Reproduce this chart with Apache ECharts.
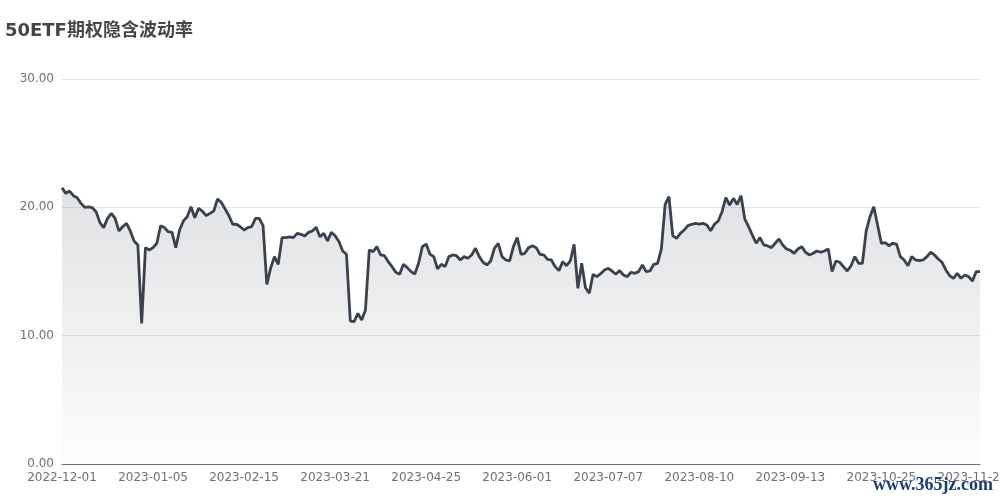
<!DOCTYPE html>
<html>
<head>
<meta charset="utf-8">
<script src="https://cdn.jsdelivr.net/npm/echarts@6/dist/echarts.min.js"></script>
<style>
html,body{margin:0;padding:0;background:#fff;overflow:hidden;}
#chart{width:1000px;height:500px;}
</style>
</head>
<body>
<div id="chart"></div>
<script>
// Trading calendar: 2022-12-01 .. 2023-11-30 (SSE trading days)
var startDate = '2022-12-01';
var endDate = '2023-11-30';
var holidays = ['2023-01-02','2023-01-23','2023-01-24','2023-01-25','2023-01-26','2023-01-27',
  '2023-04-05','2023-05-01','2023-05-02','2023-05-03','2023-06-22','2023-06-23',
  '2023-09-29','2023-10-02','2023-10-03','2023-10-04','2023-10-05','2023-10-06'];

// Implied volatility values
var ivValues = [
  21.53,21.09,21.27,20.91,20.75,20.31,20.00,20.03,19.97,19.66,
  18.81,18.42,19.14,19.53,19.14,18.16,18.49,18.75,18.16,17.38,
  17.07,10.96,16.86,16.68,16.86,17.20,18.57,18.42,18.10,18.05,
  16.86,18.23,18.94,19.27,20.05,19.19,19.92,19.71,19.35,19.53,
  19.71,20.65,20.39,19.87,19.35,18.68,18.68,18.49,18.23,18.42,
  18.49,19.14,19.14,18.57,14.00,15.25,16.16,15.56,17.64,17.64,
  17.69,17.64,17.97,17.90,17.77,18.05,18.16,18.44,17.71,17.97,
  17.38,18.05,17.79,17.33,16.60,16.34,11.14,11.09,11.74,11.22,
  12.00,16.68,16.55,16.94,16.29,16.23,15.77,15.38,14.94,14.78,
  15.56,15.30,14.99,14.81,15.64,16.94,17.14,16.35,16.16,15.20,
  15.56,15.38,16.16,16.29,16.23,15.90,16.16,16.03,16.29,16.81,
  16.16,15.72,15.51,15.82,16.81,17.20,16.16,15.90,15.82,16.94,
  17.64,16.34,16.42,16.86,17.01,16.86,16.34,16.29,15.95,15.90,
  15.38,15.07,15.77,15.45,15.82,17.12,13.69,15.64,13.74,13.30,
  14.78,14.60,14.83,15.12,15.25,15.04,14.78,15.07,14.73,14.60,
  14.94,14.86,14.99,15.51,14.99,15.04,15.56,15.64,16.75,20.23,
  20.83,17.79,17.58,17.97,18.23,18.57,18.68,18.75,18.70,18.75,
  18.62,18.18,18.68,18.94,19.66,20.75,20.18,20.70,20.23,20.91,
  19.09,18.49,17.84,17.20,17.64,17.07,16.99,16.86,17.20,17.53,
  17.07,16.75,16.65,16.42,16.75,16.94,16.50,16.29,16.42,16.60,
  16.50,16.60,16.75,14.99,15.82,15.72,15.38,15.04,15.45,16.16,
  15.64,15.64,18.16,19.27,20.05,18.62,17.20,17.25,17.01,17.20,
  17.14,16.16,15.90,15.45,16.16,15.90,15.84,15.90,16.16,16.50,
  16.29,15.97,15.72,15.12,14.68,14.47,14.86,14.47,14.73,14.60,
  14.26,14.99,14.99
];

var yTicks = [0, 10, 20, 30];

function pad(n){return n<10?'0'+n:''+n;}
function buildDates(){
  var out = [];
  var d = new Date(startDate + 'T00:00:00Z');
  var e = new Date(endDate + 'T00:00:00Z');
  while (d <= e) {
    var s = d.getUTCFullYear() + '-' + pad(d.getUTCMonth()+1) + '-' + pad(d.getUTCDate());
    var wd = d.getUTCDay();
    if (wd !== 0 && wd !== 6 && holidays.indexOf(s) < 0) out.push(s);
    d.setUTCDate(d.getUTCDate()+1);
  }
  return out;
}
var categories = buildDates();

var chart = echarts.init(document.getElementById('chart'), null, {renderer:'canvas', width:1000, height:500});
chart.setOption({
  backgroundColor: '#ffffff',
  animation: false,
  textStyle: {fontFamily: '"DejaVu Sans", "Noto Sans CJK SC", sans-serif'},
  title: {
    text: '50ETF期权隐含波动率',
    left: 5, top: 22, padding: 0,
    textStyle: {fontSize: 18, fontWeight: 'bold', color: '#464646', fontFamily: '"DejaVu Sans", "Noto Sans CJK SC", sans-serif'}
  },
  grid: {left: 62, right: 20, top: 79, bottom: 36, containLabel: false, outerBoundsMode: 'none'},
  xAxis: {
    type: 'category',
    data: categories,
    boundaryGap: false,
    axisTick: {show: false},
    axisLine: {lineStyle: {color: '#6E7079'}},
    axisLabel: {interval: 23, color: '#6E7079', fontSize: 12, margin: 8, hideOverlap: false},
    splitLine: {show: false}
  },
  yAxis: {
    type: 'value',
    min: yTicks[0], max: yTicks[yTicks.length-1], interval: 10,
    axisLabel: {color: '#6E7079', fontSize: 12, formatter: function(v){return v.toFixed(2);}},
    splitLine: {lineStyle: {color: '#E0E6F1'}},
    axisLine: {show: false},
    axisTick: {show: false}
  },
  series: [{
    type: 'line',
    data: ivValues,
    showSymbol: false,
    lineStyle: {color: '#3a424c', width: 2.8},
    itemStyle: {color: '#3a424c'},
    areaStyle: {
      color: new echarts.graphic.LinearGradient(0, 0, 0, 1, [
        {offset: 0, color: 'rgba(60,66,76,0.22)'},
        {offset: 1, color: 'rgba(60,66,76,0.02)'}
      ])
    }
  }],
  graphic: [{
    type: 'text',
    right: 7, bottom: 6,
    z: 100,
    style: {text: 'www.365jz.com', font: 'bold 18px "Liberation Serif", "DejaVu Serif", serif', fill: '#1d3b73'}
  }]
});
</script>
</body>
</html>
